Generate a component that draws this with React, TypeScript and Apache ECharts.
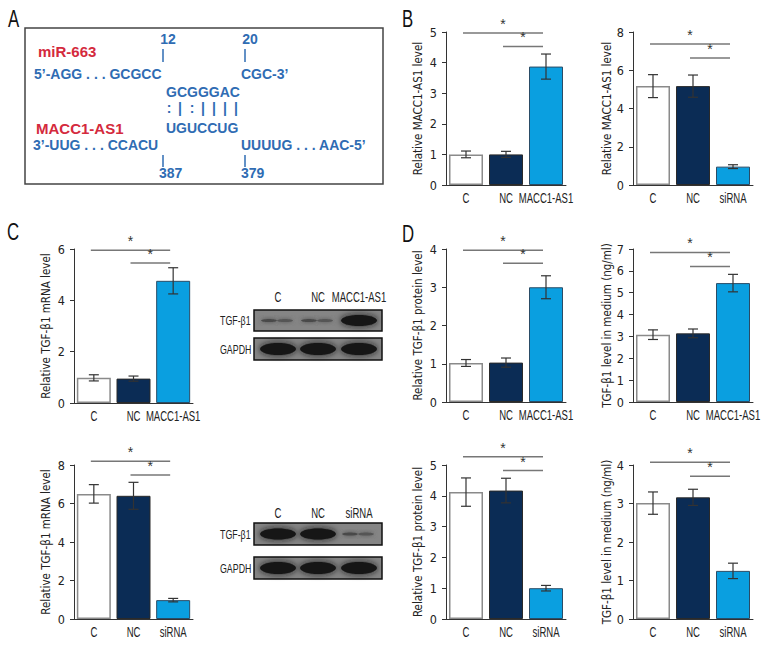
import React, { useEffect, useRef } from "react";
import * as echarts from "echarts";

const FONT = '"Liberation Sans Narrow", "DejaVu Sans Condensed", "Arial Narrow", sans-serif';
const SANS = '"Liberation Sans", Arial, sans-serif';
const BOLD = '"Liberation Sans", Arial, sans-serif';
const SQ = 0.68;

const catsOver = ["C", "NC", "MACC1-AS1"];
const catsSi = ["C", "NC", "siRNA"];

// Panel B
const bOverMean = [1.0, 1.0, 3.87];
const bOverErr = [0.11, 0.1, 0.41];
const bOverSig = [4.97, 4.53];
const bSiMean = [5.17, 5.17, 0.96];
const bSiErr = [0.6, 0.58, 0.1];
const bSiSig = [7.37, 6.64];
// Panel C
const cOverMean = [0.98, 0.95, 4.76];
const cOverErr = [0.12, 0.1, 0.51];
const cOverSig = [5.95, 5.45];
const cSiMean = [6.5, 6.4, 0.98];
const cSiErr = [0.48, 0.7, 0.09];
const cSiSig = [8.19, 7.48];
// Panel D
const dProtOverMean = [1.02, 1.03, 3.0];
const dProtOverErr = [0.09, 0.12, 0.3];
const dProtOverSig = [3.97, 3.63];
const dMedOverMean = [3.08, 3.14, 5.44];
const dMedOverErr = [0.22, 0.2, 0.4];
const dMedOverSig = [6.84, 6.2];
const dProtSiMean = [4.12, 4.17, 1.0];
const dProtSiErr = [0.46, 0.4, 0.09];
const dProtSiSig = [5.27, 4.82];
const dMedSiMean = [3.01, 3.16, 1.25];
const dMedSiErr = [0.29, 0.21, 0.2];
const dMedSiSig = [4.07, 3.71];

const FILLS = ["#ffffff", "#0b2c55", "#0a9fe0"];
const BORDERS = ["#8a8a8a", "#2a2a2a", "#2a4c66"];
const BWIDTH = [1.5, 1, 1];

type PanelDef = {
  left: number; top: number; width: number; height: number;
  cats: string[]; mean: number[]; err: number[]; sig: number[];
  max: number; interval: number; name: string; nameGap: number;
};

const panels: PanelDef[] = [
  { left: 446, top: 32, width: 120, height: 153, cats: catsOver, mean: bOverMean, err: bOverErr, sig: bOverSig, max: 5, interval: 1, name: "Relative MACC1-AS1 level", nameGap: 22 },
  { left: 633, top: 32, width: 120, height: 153, cats: catsSi, mean: bSiMean, err: bSiErr, sig: bSiSig, max: 8, interval: 2, name: "Relative MACC1-AS1 level", nameGap: 20 },
  { left: 74, top: 249, width: 119, height: 154, cats: catsOver, mean: cOverMean, err: cOverErr, sig: cOverSig, max: 6, interval: 2, name: "Relative TGF-β1 mRNA level", nameGap: 22 },
  { left: 74, top: 465, width: 119, height: 154, cats: catsSi, mean: cSiMean, err: cSiErr, sig: cSiSig, max: 8, interval: 2, name: "Relative TGF-β1 mRNA level", nameGap: 22 },
  { left: 446, top: 249, width: 120, height: 153, cats: catsOver, mean: dProtOverMean, err: dProtOverErr, sig: dProtOverSig, max: 4, interval: 1, name: "Relative TGF-β1 protein level", nameGap: 22 },
  { left: 633, top: 249, width: 120, height: 153, cats: catsOver, mean: dMedOverMean, err: dMedOverErr, sig: dMedOverSig, max: 7, interval: 1, name: "TGF-β1 level in medium (ng/ml)", nameGap: 19 },
  { left: 446, top: 465, width: 120, height: 154, cats: catsSi, mean: dProtSiMean, err: dProtSiErr, sig: dProtSiSig, max: 5, interval: 1, name: "Relative TGF-β1 protein level", nameGap: 22 },
  { left: 633, top: 465, width: 120, height: 154, cats: catsSi, mean: dMedSiMean, err: dMedSiErr, sig: dMedSiSig, max: 4, interval: 1, name: "TGF-β1 level in medium (ng/ml)", nameGap: 19 },
];

const BLUE = "#2f6cb3";
const RED = "#d42a3d";

function txt(text: string, x: number, y: number, fill: string, font: string, align = "left", scaleX = 1) {
  return {
    type: "text",
    x,
    y,
    scaleX,
    silent: true,
    style: { text, fill, font, textAlign: align, align, textVerticalAlign: "middle", verticalAlign: "middle" },
  };
}

function vline(x: number, y1: number, y2: number, color: string) {
  return { type: "line", shape: { x1: x, y1, x2: x, y2 }, style: { stroke: color, lineWidth: 1.5 }, silent: true };
}

function band(cx: number, cy: number, rx: number, ry: number, fill: string, blur: number) {
  return {
    type: "ellipse",
    shape: { cx, cy, rx, ry },
    style: { fill, shadowBlur: blur, shadowColor: fill },
    silent: true,
  };
}

function blot(y1: number, h1: number, y2: number, h2: number, labelY: number, lanes: string[], tgf: number[]) {
  const els: any[] = [];
  const laneX = [278, 318, 359];
  const f = "14px " + SANS;
  const fs = "13px " + SANS;
  lanes.forEach((l, i) => els.push(txt(l, laneX[i], labelY, "#222", f, "center", SQ)));
  els.push(txt("TGF-β1", 220, y1 + h1 / 2, "#222", fs, "left", SQ));
  els.push(txt("GAPDH", 220, y2 + h2 / 2, "#222", fs, "left", SQ));
  els.push({ type: "rect", shape: { x: 254, y: y1, width: 128, height: h1 }, style: { fill: "#858585", stroke: "#111", lineWidth: 1.5 }, silent: true });
  els.push({ type: "rect", shape: { x: 254, y: y2, width: 128, height: h2 }, style: { fill: "#858585", stroke: "#111", lineWidth: 1.5 }, silent: true });
  tgf.forEach((s, i) => {
    if (s > 0.5) els.push(band(laneX[i], y1 + h1 / 2, 18, 5.5, "#151515", 6));
    else {
      els.push(band(laneX[i] - 9, y1 + h1 / 2, 8, 1.6, "#4a4a4a", 4));
      els.push(band(laneX[i] + 7, y1 + h1 / 2, 8, 1.6, "#555", 4));
    }
  });
  laneX.forEach((x) => els.push(band(x, y2 + h2 / 2, 18, 6, "#151515", 6)));
  return els;
}

function buildOption() {
  const grid: any[] = [];
  const xAxis: any[] = [];
  const yAxis: any[] = [];
  const series: any[] = [];
  panels.forEach((p, idx) => {
    grid.push({ left: p.left, top: p.top, width: p.width, height: p.height, containLabel: false });
    xAxis.push({
      type: "category",
      gridIndex: idx,
      data: p.cats,
      axisLine: { lineStyle: { color: "#333", width: 1 } },
      axisTick: { show: false },
      axisLabel: { show: false },
    });
    yAxis.push({
      type: "value",
      gridIndex: idx,
      min: 0,
      max: p.max,
      interval: p.interval,
      splitLine: { show: false },
      axisLine: { show: true, lineStyle: { color: "#333", width: 1 } },
      axisTick: { show: true, length: 4, lineStyle: { color: "#333" } },
      axisLabel: { fontFamily: FONT, fontSize: 12.5, color: "#222", margin: 9 },
      name: p.name,
      nameLocation: "middle",
      nameGap: p.nameGap,
      nameTextStyle: { fontFamily: FONT, fontSize: 11.5, color: "#222" },
    });
    series.push({
      type: "bar",
      xAxisIndex: idx,
      yAxisIndex: idx,
      barWidth: 34,
      data: p.mean.map((v, i) => ({
        value: v,
        itemStyle: { color: FILLS[i], borderColor: BORDERS[i], borderWidth: BWIDTH[i] },
      })),
      z: 2,
    });
    // category labels (condensed)
    series.push({
      type: "custom",
      xAxisIndex: idx,
      yAxisIndex: idx,
      z: 5,
      clip: false,
      silent: true,
      itemStyle: { color: "#222" },
      data: p.cats.map((c, i) => [i, 0]),
      encode: { x: 0, y: 1 },
      renderItem: (params: any, api: any) => {
        const pt = api.coord([api.value(0), 0]);
        return {
          type: "text",
          x: pt[0],
          y: pt[1] + 6,
          scaleX: SQ,
          style: {
            text: p.cats[params.dataIndex],
            fill: "#222",
            textFill: "#222",
            font: "14px " + SANS,
            align: "center",
            textAlign: "center",
            verticalAlign: "top",
            textVerticalAlign: "top",
          },
        };
      },
    });
    series.push({
      type: "custom",
      xAxisIndex: idx,
      yAxisIndex: idx,
      z: 5,
      itemStyle: { color: "#333" },
      data: p.mean.map((m, i) => [i, m - p.err[i], m + p.err[i]]),
      encode: { x: 0, y: [1, 2] },
      renderItem: (params: any, api: any) => {
        const lo = api.coord([api.value(0), api.value(1)]);
        const hi = api.coord([api.value(0), api.value(2)]);
        const st = { stroke: "#333", lineWidth: 1.2 };
        return {
          type: "group",
          children: [
            { type: "line", shape: { x1: lo[0], y1: lo[1], x2: hi[0], y2: hi[1] }, style: st },
            { type: "line", shape: { x1: lo[0] - 5, y1: lo[1], x2: lo[0] + 5, y2: lo[1] }, style: st },
            { type: "line", shape: { x1: hi[0] - 5, y1: hi[1], x2: hi[0] + 5, y2: hi[1] }, style: st },
          ],
        };
      },
    });
    series.push({
      type: "custom",
      xAxisIndex: idx,
      yAxisIndex: idx,
      z: 5,
      clip: false,
      itemStyle: { color: "#333" },
      data: [
        [0, 2, p.sig[0]],
        [1, 2, p.sig[1]],
      ],
      encode: { x: [0, 1], y: 2 },
      renderItem: (params: any, api: any) => {
        const a = api.coord([api.value(0), api.value(2)]);
        const b = api.coord([api.value(1), api.value(2)]);
        return {
          type: "group",
          children: [
            { type: "line", shape: { x1: a[0] - 3, y1: a[1], x2: b[0] - 3, y2: b[1] }, style: { stroke: "#777", lineWidth: 1.5 } },
            {
              type: "text",
              x: (a[0] + b[0]) / 2 - 3,
              y: a[1] - 2,
              style: {
                text: "*",
                fill: "#333",
                textFill: "#333",
                font: "14px " + SANS,
                align: "center",
                textAlign: "center",
                verticalAlign: "bottom",
                textVerticalAlign: "bottom",
              },
            },
          ],
        };
      },
    });
  });

  const pair = [":", "|", ":", "|", "|", "|", "|"];
  const pairX = [169, 180, 192, 203, 214, 225, 236];
  const blueFont = "bold 14px " + BOLD;
  const redFont = "bold 15px " + BOLD;
  const letterFont = "24px " + SANS;
  const elements: any[] = [
    txt("A", 8, 18, "#111", letterFont, "left", 0.7),
    txt("B", 402, 18, "#111", letterFont, "left", 0.7),
    txt("C", 7, 231, "#111", letterFont, "left", 0.7),
    txt("D", 402, 233, "#111", letterFont, "left", 0.7),
    { type: "rect", shape: { x: 25, y: 28, width: 358, height: 156 }, style: { fill: "none", stroke: "#444", lineWidth: 1.5 }, silent: true },
    txt("miR-663", 38, 51, RED, redFont),
    txt("12", 168, 39, BLUE, blueFont, "center"),
    txt("20", 250, 39, BLUE, blueFont, "center"),
    vline(163, 49, 62, BLUE),
    vline(245, 49, 62, BLUE),
    txt("5’-AGG . . . GCGCC", 34, 74, BLUE, blueFont),
    txt("CGC-3’", 241, 74, BLUE, blueFont),
    txt("GCGGGAC", 166, 92, BLUE, blueFont),
    ...pair.map((s, i) => txt(s, pairX[i], 108, BLUE, blueFont, "center")),
    txt("MACC1-AS1", 36, 128, RED, redFont),
    txt("UGUCCUG", 166, 128, BLUE, blueFont),
    txt("3’-UUG . . . CCACU", 33, 145, BLUE, blueFont),
    txt("UUUUG . . . AAC-5’", 241, 145, BLUE, blueFont),
    vline(163, 155, 167, BLUE),
    vline(245, 155, 167, BLUE),
    txt("387", 159, 173, BLUE, blueFont),
    txt("379", 241, 173, BLUE, blueFont),
    ...blot(310, 21, 338, 22, 297, catsOver, [0, 0, 1]),
    ...blot(523, 22, 557, 22, 513, catsSi, [1, 1, 0]),
  ];

  return {
    animation: false,
    backgroundColor: "#ffffff",
    grid,
    xAxis,
    yAxis,
    series,
    graphic: { elements },
  };
}

export default function App() {
  const ref = useRef<HTMLDivElement>(null);
  useEffect(() => {
    if (!ref.current) return;
    const chart = echarts.init(ref.current, undefined, { renderer: "svg" });
    chart.setOption(buildOption() as any);
    return () => chart.dispose();
  }, []);
  return (
    <div
      ref={ref}
      style={{ position: "fixed", left: 0, top: 0, width: 780, height: 660, background: "#fff" }}
    />
  );
}
